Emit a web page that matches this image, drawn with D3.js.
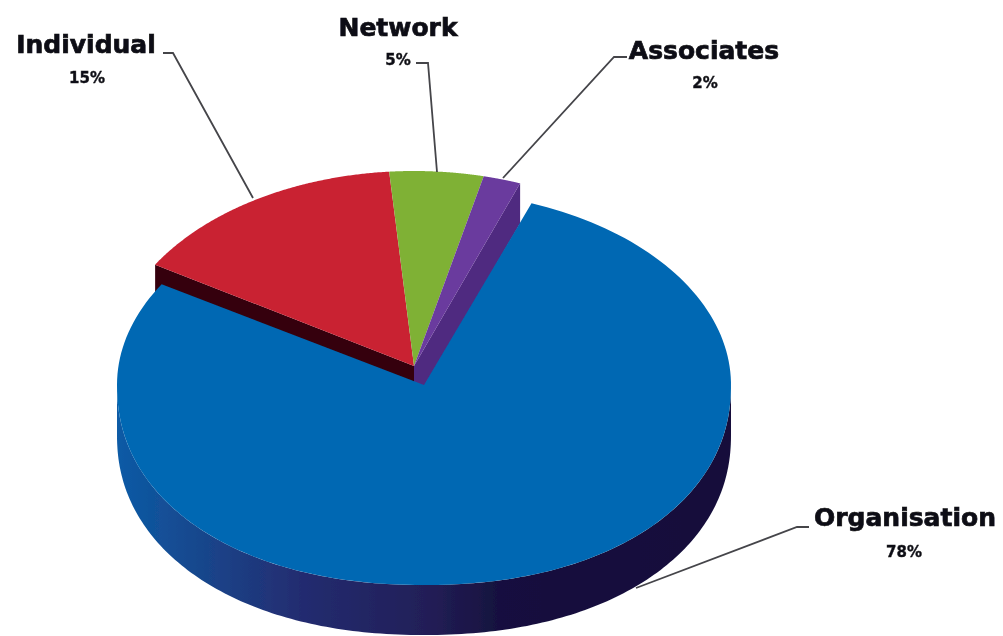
<!DOCTYPE html>
<html>
<head>
<meta charset="utf-8">
<script src="https://cdn.jsdelivr.net/npm/d3@7/dist/d3.min.js"></script>
<style>
html,body{margin:0;padding:0;background:#fff;}
svg{display:block;}
text{font-family:"DejaVu Sans",Lato,sans-serif;font-weight:700;fill:#0c0c14;text-anchor:middle;}
</style>
</head>
<body>
<svg id="chart" width="1003" height="636"></svg>
<script>
const categories = ["Organisation", "Individual", "Network", "Associates"];
const shares = [78, 15, 5, 2];
const shareLabels = ["78%", "15%", "5%", "2%"];
const topColors = ["#0068b3", "#c92033", "#7fb135", "#6a3a9e"];
const wallColors = ["#14103a", "#36000c", "#4f6f20", "#4f2a80"];

const svg = d3.select("#chart");
const START = 20.5 * Math.PI / 180;
const slices = d3.pie().value(d => d).sort(null)
  .startAngle(START).endAngle(START + 2 * Math.PI)(shares);

// two projected discs: the pulled-out big slice and the small group
const bigDisc = {cx: 424, cy: 385, rx: 307, back: 194, front: 200, power: 2 / 2.15, depth: 50};
const smallDisc = {cx: 414, cy: 366, rx: 303, back: 195, front: 195, power: 1, depth: 40};
const discOf = i => i === 0 ? bigDisc : smallDisc;
const pt = (d, a, r = 1, dz = 0) => {
  const s = Math.sin(a), c = Math.cos(a);
  const frontHalf = c < 0;
  const p = frontHalf ? d.power : 1;
  const sx = Math.sign(s) * Math.pow(Math.abs(s), p);
  const cy = Math.sign(c) * Math.pow(Math.abs(c), p);
  return [d.cx + d.rx * r * sx, d.cy - (frontHalf ? d.front : d.back) * r * cy + dz];
};
const lineGen = d3.line();
const sweep = (from, to, n = 180) => d3.range(0, n + 1).map(t => from + (to - from) * t / n);
const sector = (d, s) => lineGen([pt(d, s.startAngle, 0)].concat(sweep(s.startAngle, s.endAngle).map(a => pt(d, a)))) + "Z";

const grad = svg.append("defs").append("linearGradient").attr("id", "bigWall")
  .attr("gradientUnits", "userSpaceOnUse")
  .attr("x1", bigDisc.cx - bigDisc.rx).attr("x2", bigDisc.cx + bigDisc.rx)
  .attr("y1", 0).attr("y2", 0);
[[0, "#0b5ba6"], [0.12, "#17498f"], [0.3, "#242c70"], [0.5, "#231f58"], [0.62, "#17113f"], [1, "#14103a"]]
  .forEach(([o, c]) => grad.append("stop").attr("offset", o).attr("stop-color", c));

const soft = svg.select("defs").append("filter").attr("id", "soft");
soft.append("feGaussianBlur").attr("stdDeviation", 0.5);

const chart = svg.append("g").attr("filter", "url(#soft)");
const wallLayer = chart.append("g");
const topLayer = chart.append("g");

// side cut faces of the small slices
[1, 3].forEach(i => {
  const d = discOf(i), s = slices[i];
  const a = i === 1 ? s.startAngle : s.endAngle;
  wallLayer.append("path")
    .attr("d", lineGen([pt(d, a), pt(d, a, 0), pt(d, a, 0, d.depth), pt(d, a, 1, d.depth)]) + "Z")
    .attr("fill", wallColors[i]);
});

slices.slice(1).forEach((s, k) => {
  const i = k + 1;
  topLayer.append("path").attr("d", sector(discOf(i), s)).attr("fill", topColors[i]);
});

// big slice wall and top
const bigLayer = chart.append("g");
{
  const d = bigDisc;
  const angles = sweep(Math.PI / 2, 3 * Math.PI / 2);
  const rim = angles.map(a => pt(d, a)).concat(angles.slice().reverse().map(a => pt(d, a, 1, d.depth)));
  bigLayer.append("path").attr("d", lineGen(rim) + "Z").attr("fill", "url(#bigWall)");
  bigLayer.append("path").attr("d", sector(d, slices[0])).attr("fill", topColors[0]);
}

// leader lines
const leaderPaths = [
  [[809, 527], [797, 527], [636, 588]],
  [[163, 53], [173, 53], [253, 198]],
  [[416, 63], [428, 63], [437, 172]],
  [[627, 57], [614, 57], [503, 178]]
];
chart.append("g").selectAll("path").data(leaderPaths).join("path")
  .attr("d", d => lineGen(d)).attr("fill", "none")
  .attr("stroke", "#45454a").attr("stroke-width", 1.8);

// labels
const namePos = [[905, 526], [86, 53], [398, 36], [704, 59]];
const sharePos = [[904, 557], [87, 83], [398, 65], [705, 88]];
chart.append("g").selectAll("text").data(categories).join("text")
  .attr("x", (d, i) => namePos[i][0]).attr("y", (d, i) => namePos[i][1])
  .attr("font-size", 25).attr("stroke", "#0c0c14").attr("stroke-width", 0.7).text(d => d);
chart.append("g").selectAll("text").data(shareLabels).join("text")
  .attr("x", (d, i) => sharePos[i][0]).attr("y", (d, i) => sharePos[i][1])
  .attr("font-size", 15).attr("fill", "#222").attr("stroke", "#222").attr("stroke-width", 0.4).text(d => d);
</script>
</body>
</html>
